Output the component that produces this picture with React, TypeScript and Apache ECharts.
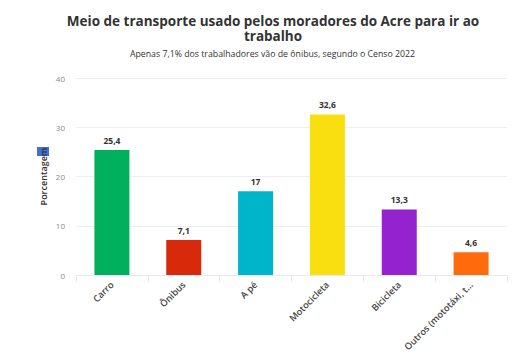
import React, { useEffect, useRef } from "react";
import * as echarts from "echarts";

const categories = ["Carro", "Ônibus", "A pé", "Motocicleta", "Bicicleta", "Outros (mototáxi, t..."];
const values = [25.4, 7.1, 17, 32.6, 13.3, 4.6];
const colors = ["#00b05c", "#d9290b", "#00b5c9", "#f9df0f", "#9423cf", "#ff6a0d"];
const titleLines = "Meio de transporte usado pelos moradores do Acre para ir ao\ntrabalho";
const subtitle = "Apenas 7,1% dos trabalhadores vão de ônibus, segundo o Censo 2022";
const font = "'Open Sans', sans-serif";

export default function App() {
  const ref = useRef<HTMLDivElement>(null);
  useEffect(() => {
    const chart = echarts.init(ref.current!, null, { renderer: "svg" });
    chart.setOption({
      animation: false,
      backgroundColor: "#ffffff",
      textStyle: { fontFamily: font },
      grid: { left: 76, right: 21, top: 78, bottom: 81, containLabel: false },
      graphic: [
        { type: "rect", shape: { x: 37, y: 147, width: 12, height: 9 }, style: { fill: "#3f6fd8" }, z: 0 },
        { type: "text", x: 273, y: 13, z: 5, style: { text: titleLines, fill: "#333333", font: `bold 13.5px ${font}`, align: "center", verticalAlign: "top", lineHeight: 15 } },
        { type: "text", x: 272.5, y: 49, z: 5, style: { text: subtitle, fill: "#333333", font: `8.75px ${font}`, align: "center", verticalAlign: "top" } },
      ],
      xAxis: {
        type: "category",
        data: categories,
        axisTick: { show: true, length: 7, alignWithLabel: false, lineStyle: { color: "#e6e9f5" } },
        axisLine: { lineStyle: { color: "#e6e9f5" } },
        axisLabel: { rotate: 45, interval: 0, color: "#444444", fontSize: 9.2, fontWeight: 600, fontFamily: font, margin: 8 },
      },
      yAxis: {
        type: "value",
        min: 0,
        max: 40,
        interval: 10,
        name: "Porcentagem",
        nameLocation: "middle",
        nameGap: 28,
        nameMoveOverlap: false,
        nameRotate: 90,
        nameTextStyle: { color: "#333333", fontSize: 9, fontWeight: 600, fontFamily: font },
        axisLabel: { color: "#888888", fontSize: 8, fontFamily: font, margin: 11 },
        splitLine: { lineStyle: { color: "#eeeeee" } },
      },
      series: [
        {
          type: "bar",
          barWidth: 35,
          data: values.map((v, i) => ({ value: v, itemStyle: { color: colors[i] } })),
          label: {
            show: true,
            position: "top",
            distance: 5,
            color: "#333333",
            fontSize: 8.5,
            fontWeight: "bold",
            fontFamily: font,
            formatter: (p: any) => String(p.value).replace(".", ","),
          },
        },
      ],
    });
    return () => chart.dispose();
  }, []);
  return <div ref={ref} style={{ width: 528, height: 356, position: "absolute", left: 0, top: 0 }} />;
}
